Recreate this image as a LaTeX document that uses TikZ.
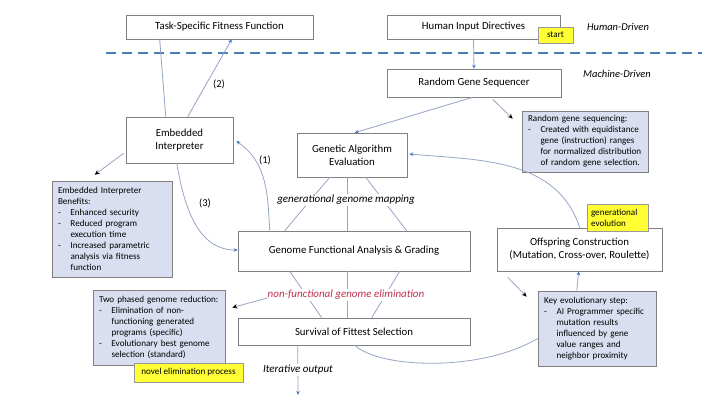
\documentclass[tikz,border=0pt]{standalone}
\usepackage{fontspec}
\setmainfont{Carlito}
\usetikzlibrary{arrows.meta,calc}
\definecolor{lineC}{RGB}{150,165,198}
\definecolor{tipC}{RGB}{68,114,196}
\definecolor{boxC}{RGB}{128,128,128}
\definecolor{noteF}{RGB}{217,223,240}
\definecolor{yelF}{RGB}{255,255,51}
\definecolor{dashC}{RGB}{74,126,187}
\definecolor{redT}{RGB}{192,48,74}
\newcommand{\dsh}{\makebox[12.5pt][l]{-}}
\newcommand{\ind}{\hspace*{12.5pt}}
\tikzset{
  box/.style={draw=boxC, line width=0.6pt, fill=white, align=center, font=\fontsize{10.8}{13}\selectfont, inner sep=0pt},
  note/.style={draw=boxC, line width=0.6pt, fill=noteF, align=left, font=\fontsize{9.1}{11}\selectfont, inner xsep=6pt, inner ysep=0pt},
  yel/.style={draw=boxC!80, line width=0.5pt, fill=yelF, align=left, font=\fontsize{9.1}{11}\selectfont, inner sep=0pt},
  lbl/.style={font=\fontsize{10.5}{12}\selectfont},
  ilbl/.style={font=\fontsize{11}{13}\selectfont\itshape, fill=white, inner sep=1pt},
  side/.style={font=\fontsize{10.5}{12}\selectfont\itshape},
  conn/.style={draw=lineC, line width=0.8pt},
  arr/.style={conn, -{Stealth[length=4pt,width=3.5pt,color=tipC]}},
  barr/.style={conn, -{Stealth[length=5pt,width=4.5pt,color=black]}},
}
\begin{document}
\begin{tikzpicture}[x=1pt,y=-1pt]
\useasboundingbox[fill=white] (0,0) rectangle (709,409);
% dashed separator
\coordinate (dl) at (106,53);
\coordinate (dr) at (702,53);
\draw[dashC, line width=1.8pt, dash pattern=on 10pt off 6pt] (dl) -- (dr);
% main boxes
\node[box, minimum width=187pt, minimum height=24pt] (tsf) at (219.5,27) {Task-Specific Fitness Function};
\node[box, minimum width=173pt, minimum height=24pt] (hid) at (473.5,27) {Human Input Directives};
\node[box, minimum width=174pt, minimum height=28pt] (rgs) at (474,83) {Random Gene Sequencer};
\node[box, minimum width=107pt, minimum height=46pt] (emb) at (179.5,140) {Embedded\\Interpreter};
\node[box, minimum width=110pt, minimum height=44pt] (gae) at (352,155) {Genetic Algorithm\\Evaluation};
\node[box, minimum width=232pt, minimum height=40pt] (gfa) at (354,251) {Genome Functional Analysis \& Grading};
\node[box, minimum width=165pt, minimum height=43pt] (off) at (579.5,249.5) {Offspring Construction\\(Mutation, Cross-over, Roulette)};
\node[box, minimum width=232pt, minimum height=27pt] (sfs) at (354,331.5) {Survival of Fittest Selection};
% notes
\node[note, minimum width=126pt, minimum height=61pt, text width=114pt] (rgn) at (585,141.5) {Random gene sequencing:\\\dsh Created with equidistance\\\ind gene (instruction) ranges\\\ind for normalized distribution\\\ind of random gene selection.};
\node[note, minimum width=120pt, minimum height=96pt, text width=108pt] (ben) at (112,229) {Embedded Interpreter\\Benefits:\\\dsh Enhanced security\\\dsh Reduced program\\\ind execution time\\\dsh Increased parametric\\\ind analysis via fitness\\\ind function};
\node[note, minimum width=132pt, minimum height=75pt, text width=120pt] (tpg) at (159,327.5) {Two phased genome reduction:\\\dsh Elimination of non-\\\ind functioning generated\\\ind programs (specific)\\\dsh Evolutionary best genome\\\ind selection (standard)};
\node[note, minimum width=118pt, minimum height=75pt, text width=106pt] (key) at (597,328.5) {Key evolutionary step:\\\dsh AI Programmer specific\\\ind mutation results\\\ind influenced by gene\\\ind value ranges and\\\ind neighbor proximity};
% yellow tags
\node[yel, minimum width=35pt, minimum height=16pt, align=center] (start) at (555.5,35) {start};
\node[yel, minimum width=61pt, minimum height=27pt, text width=53pt] (gev) at (617.5,217.5) {generational\\evolution};
\node[yel, minimum width=109pt, minimum height=19pt, align=center] (nep) at (188.5,372.5) {novel elimination process};
% side labels
\node[side] (hd) at (618,27) {Human-Driven};
\node[side] (md) at (617,74) {Machine-Driven};
% connectors
\draw[conn] ($(tsf.south west)+(34,0)$) -- ($(emb.north west)+(40,0)$);
\draw[arr] ($(emb.north west)+(62,0)$) -- ($(tsf.south west)+(106,0)$);
\node[lbl] (l2) at (219,84) {(2)};
\draw[arr] ($(gfa.north west)+(32,0)$) to[out=93,in=-35] ($(emb.east)+(3,1)$);
\node[lbl] (l1) at (265,160) {(1)};
\draw[arr] ($(emb.south west)+(51,0)$) to[out=-80,in=180] ($(gfa.west)+(0,-1)$);
\node[lbl] (l3) at (205,203) {(3)};
\draw[barr] ($(emb.south west)+(-2,-10)$) -- ($(ben.north west)+(43,-6)$);
\draw[arr] (hid.south) -- (rgs.north);
\draw[arr] ($(rgs.south west)+(86,0)$) -- ($(gae.north west)+(58,0)$);
\draw[barr] ($(rgs.south west)+(106,2)$) -- ($(rgn.north west)+(-9,8)$);
\draw[arr] ($(off.north west)+(83,0)$) to[out=108,in=-5] ($(gae.east)+(2,-1)$);
% GA -> genome mapping lines
\draw[conn] ($(gae.south west)+(33,0)$) -- ($(gfa.north west)+(47,0)$);
\draw[conn] ($(gae.south west)+(51,0)$) -- ($(gfa.north west)+(110,0)$);
\draw[conn] ($(gae.south west)+(69,0)$) -- ($(gfa.north west)+(169,0)$);
\node[ilbl] (ggm) at (346,200) {generational genome mapping};
% genome -> survival lines
\draw[conn] ($(gfa.south west)+(52,0)$) -- ($(sfs.north west)+(84,0)$);
\draw[conn] ($(gfa.south west)+(110,0)$) -- ($(sfs.north west)+(110,0)$);
\draw[conn] ($(gfa.south west)+(162,0)$) -- ($(sfs.north west)+(134,0)$);
\node[ilbl, text=redT] (nfe) at (346,295) {non-functional genome elimination};
\draw[barr] ($(nfe.west)+(1,3)$) -- ($(tpg.east)+(7,-20)$);
% survival -> key
\draw[conn] ($(sfs.south west)+(117,0)$) .. controls ($(sfs.south west)+(142,23)$) and ($(key.west)+(-58,44)$) .. ($(key.west)+(0,10)$);
\draw[barr] ($(off.south west)+(11,6)$) -- ($(key.north west)+(-11,6)$);
\draw[arr] ($(key.north west)+(39,0)$) -- ($(off.south west)+(82,0)$);
% iterative output
\coordinate (out) at (298,395);
\draw[arr] ($(sfs.south west)+(60,0)$) -- (out);
\node[ilbl] (ito) at (298,370) {Iterative output};
\end{tikzpicture}
\end{document}
